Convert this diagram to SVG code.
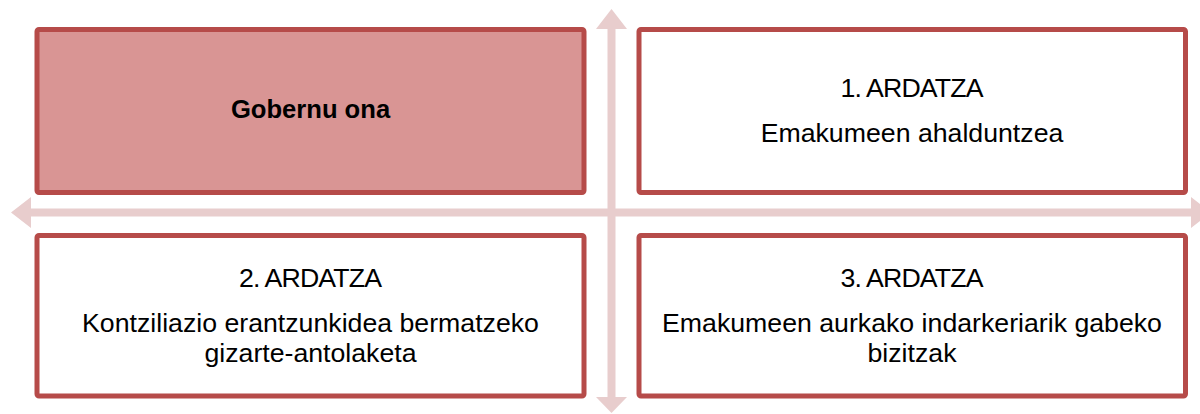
<svg xmlns="http://www.w3.org/2000/svg" width="1200" height="414" viewBox="0 0 1200 414">
<style>
.box{fill:#ffffff;stroke:#b64b49;stroke-width:5}
.hl{fill:#d99594}
.arrow{fill:#e8cdcd;stroke:none}
text{font-family:"Liberation Sans",Arial,sans-serif;font-size:26.7px;fill:#000;text-anchor:middle}
.b{font-weight:bold;font-size:25.6px}
</style>
<rect width="1200" height="414" fill="#ffffff"/>
<g id="connectors">
<polygon class="arrow" points="611.5,9 627,29 615.5,29 615.5,397 627,397 611.5,413 596,397 607.5,397 607.5,29 596,29"/>
<polygon class="arrow" points="11,212.5 31,197 31,208.5 1191,208.5 1191,197 1211,212.5 1191,228 1191,216.5 31,216.5 31,228"/>
</g>
<g id="node-gobernu">
<rect class="box hl" x="37" y="29.5" width="547" height="163" rx="2"/>
<text class="b" x="310.5" y="118">Gobernu ona</text>
</g>
<g id="node-ardatza1">
<rect class="box" x="639" y="29.5" width="546.5" height="163" rx="2"/>
<text x="912" y="96.7" textLength="143">1. ARDATZA</text>
<text x="912" y="141.7">Emakumeen ahalduntzea</text>
</g>
<g id="node-ardatza2">
<rect class="box" x="37" y="235.5" width="547" height="160.5" rx="2"/>
<text x="310.5" y="287" textLength="143">2. ARDATZA</text>
<text x="310.5" y="332">Kontziliazio erantzunkidea bermatzeko</text>
<text x="310.5" y="362">gizarte-antolaketa</text>
</g>
<g id="node-ardatza3">
<rect class="box" x="639" y="235.5" width="546.5" height="160.5" rx="2"/>
<text x="912" y="287" textLength="143">3. ARDATZA</text>
<text x="912" y="332">Emakumeen aurkako indarkeriarik gabeko</text>
<text x="912" y="362">bizitzak</text>
</g>
</svg>
